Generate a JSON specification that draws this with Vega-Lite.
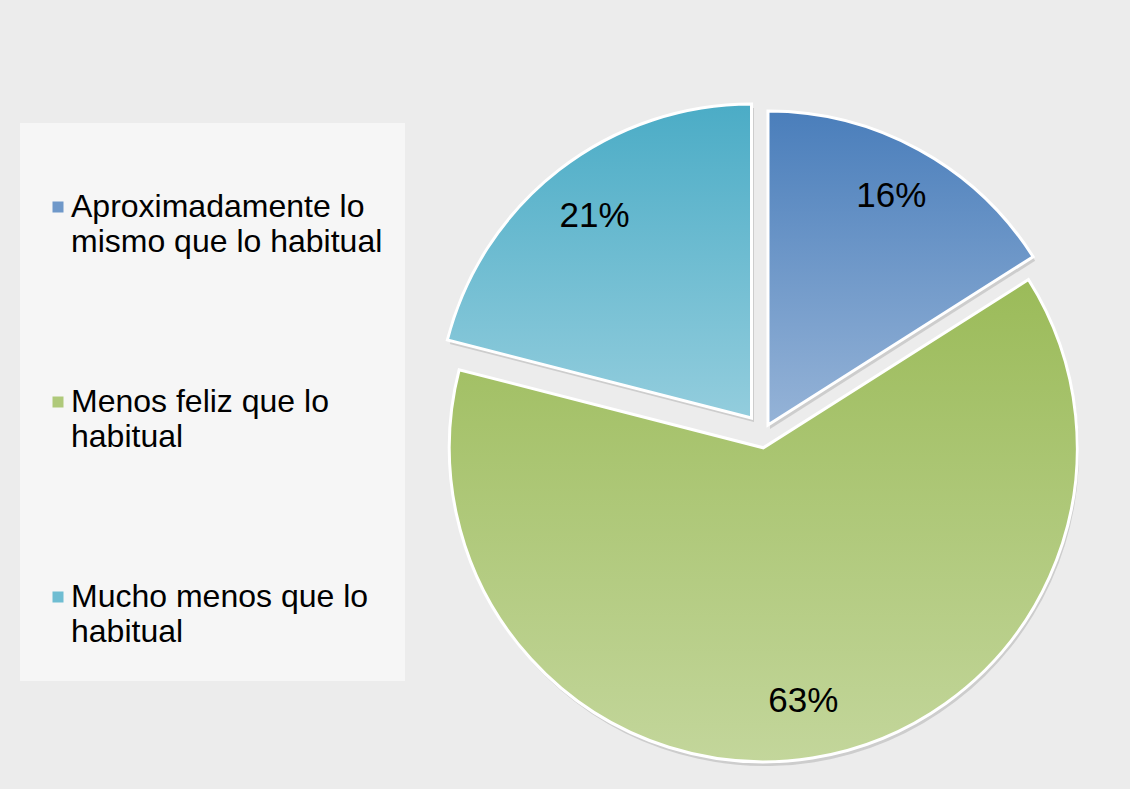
{
  "$schema": "https://vega.github.io/schema/vega-lite/v6.json",
  "width": 628,
  "height": 628,
  "autosize": {"type": "none"},
  "padding": {"left": 447, "top": 119, "right": 55, "bottom": 42},
  "background": "#ececec",
  "config": {"view": {"stroke": null}, "font": "Liberation Sans"},
  "data": {
    "values": [
      {"orden": 1, "categoria": "Aproximadamente lo mismo que lo habitual", "valor": 0.16},
      {"orden": 2, "categoria": "Menos feliz que lo habitual", "valor": 0.63},
      {"orden": 3, "categoria": "Mucho menos que lo habitual", "valor": 0.21}
    ]
  },
  "transform": [
    {"stack": "valor", "groupby": [], "sort": [{"field": "orden", "order": "ascending"}], "as": ["v0", "v1"]}
  ],
  "layer": [
    {
      "mark": {"type": "arc", "opacity": 0},
      "encoding": {
        "theta": {"field": "v0", "type": "quantitative", "scale": {"domain": [0, 1]}},
        "theta2": {"field": "v1"},
        "color": {
          "field": "categoria",
          "type": "nominal",
          "scale": {
            "domain": ["Aproximadamente lo mismo que lo habitual", "Menos feliz que lo habitual", "Mucho menos que lo habitual"],
            "range": ["#6f98c9", "#afc97a", "#6fbdd2"]
          },
          "legend": {
            "title": null,
            "orient": "none",
            "legendX": -427,
            "legendY": 4,
            "direction": "vertical",
            "symbolType": "square",
            "symbolSize": 121,
            "symbolStrokeWidth": 0,
            "symbolOpacity": 1,
            "labelFont": "Liberation Sans",
            "labelFontSize": 32,
            "labelColor": "#000000",
            "labelOffset": -3,
            "labelLimit": 500,
            "clipHeight": 124,
            "rowPadding": 71,
            "padding": 22,
            "fillColor": "#f6f6f6",
            "labelExpr": "datum.label == 'Aproximadamente lo mismo que lo habitual' ? ['Aproximadamente lo', 'mismo que lo habitual'] : datum.label == 'Menos feliz que lo habitual' ? ['Menos feliz que lo', 'habitual'] : ['Mucho menos que lo', 'habitual']",
            "encode": {
              "labels": {"update": {"lineHeight": {"value": 35}}},
              "symbols": {"update": {
                "opacity": {"value": 1},
                "fill": {"signal": "datum.value == 'Aproximadamente lo mismo que lo habitual' ? {gradient: 'linear', x1: 0, y1: 0, x2: 0, y2: 1, stops: [{offset: 0, color: '#4a7ebb'}, {offset: 1, color: '#95b3d7'}]} : datum.value == 'Menos feliz que lo habitual' ? {gradient: 'linear', x1: 0, y1: 0, x2: 0, y2: 1, stops: [{offset: 0, color: '#9bbb59'}, {offset: 1, color: '#c3d69b'}]} : {gradient: 'linear', x1: 0, y1: 0, x2: 0, y2: 1, stops: [{offset: 0, color: '#4bacc6'}, {offset: 1, color: '#93cddd'}]}"}
              }}
            }
          }
        }
      }
    },
    {
      "transform": [{"filter": "datum.orden == 1"}],
      "mark": {"type": "arc", "xOffset": 9, "yOffset": -4, "fill": "#606060", "opacity": 0.22},
      "encoding": {"theta": {"field": "v0", "type": "quantitative"}, "theta2": {"field": "v1"}}
    },
    {
      "transform": [{"filter": "datum.orden == 2"}],
      "mark": {"type": "arc", "xOffset": 4, "yOffset": 19, "fill": "#606060", "opacity": 0.22},
      "encoding": {"theta": {"field": "v0", "type": "quantitative"}, "theta2": {"field": "v1"}}
    },
    {
      "transform": [{"filter": "datum.orden == 3"}],
      "mark": {"type": "arc", "xOffset": -7, "yOffset": -11, "fill": "#606060", "opacity": 0.22},
      "encoding": {"theta": {"field": "v0", "type": "quantitative"}, "theta2": {"field": "v1"}}
    },
    {
      "transform": [{"filter": "datum.orden == 1"}],
      "mark": {
        "type": "arc", "xOffset": 7, "yOffset": -8, "stroke": "#ffffff", "strokeWidth": 3,
        "fill": {"gradient": "linear", "x1": 0, "y1": 0, "x2": 0, "y2": 1, "stops": [{"offset": 0, "color": "#4a7ebb"}, {"offset": 1, "color": "#95b3d7"}]}
      },
      "encoding": {"theta": {"field": "v0", "type": "quantitative"}, "theta2": {"field": "v1"}}
    },
    {
      "transform": [{"filter": "datum.orden == 2"}],
      "mark": {
        "type": "arc", "xOffset": 2.3, "yOffset": 14.8, "stroke": "#ffffff", "strokeWidth": 3,
        "fill": {"gradient": "linear", "x1": 0, "y1": 0, "x2": 0, "y2": 1, "stops": [{"offset": 0, "color": "#9bbb59"}, {"offset": 1, "color": "#c3d69b"}]}
      },
      "encoding": {"theta": {"field": "v0", "type": "quantitative"}, "theta2": {"field": "v1"}}
    },
    {
      "transform": [{"filter": "datum.orden == 3"}],
      "mark": {
        "type": "arc", "xOffset": -9.5, "yOffset": -15, "stroke": "#ffffff", "strokeWidth": 3,
        "fill": {"gradient": "linear", "x1": 0, "y1": 0, "x2": 0, "y2": 1, "stops": [{"offset": 0, "color": "#4bacc6"}, {"offset": 1, "color": "#93cddd"}]}
      },
      "encoding": {"theta": {"field": "v0", "type": "quantitative"}, "theta2": {"field": "v1"}}
    },
    {
      "mark": {"type": "text", "radius": 256, "fontSize": 35, "font": "Liberation Sans", "color": "#000000", "xOffset": 7, "yOffset": -13},
      "encoding": {
        "theta": {"field": "valor", "type": "quantitative", "stack": true},
        "order": {"field": "orden"},
        "text": {"condition": {"test": "datum.orden == 1", "field": "valor", "type": "quantitative", "format": ".0%"}, "value": ""}
      }
    },
    {
      "mark": {"type": "text", "radius": 256, "fontSize": 35, "font": "Liberation Sans", "color": "#000000", "xOffset": 2.3, "yOffset": 14.8},
      "encoding": {
        "theta": {"field": "valor", "type": "quantitative", "stack": true},
        "order": {"field": "orden"},
        "text": {"condition": {"test": "datum.orden == 2", "field": "valor", "type": "quantitative", "format": ".0%"}, "value": ""}
      }
    },
    {
      "mark": {"type": "text", "radius": 256, "fontSize": 35, "font": "Liberation Sans", "color": "#000000", "xOffset": -9.5, "yOffset": -15},
      "encoding": {
        "theta": {"field": "valor", "type": "quantitative", "stack": true},
        "order": {"field": "orden"},
        "text": {"condition": {"test": "datum.orden == 3", "field": "valor", "type": "quantitative", "format": ".0%"}, "value": ""}
      }
    }
  ]
}
